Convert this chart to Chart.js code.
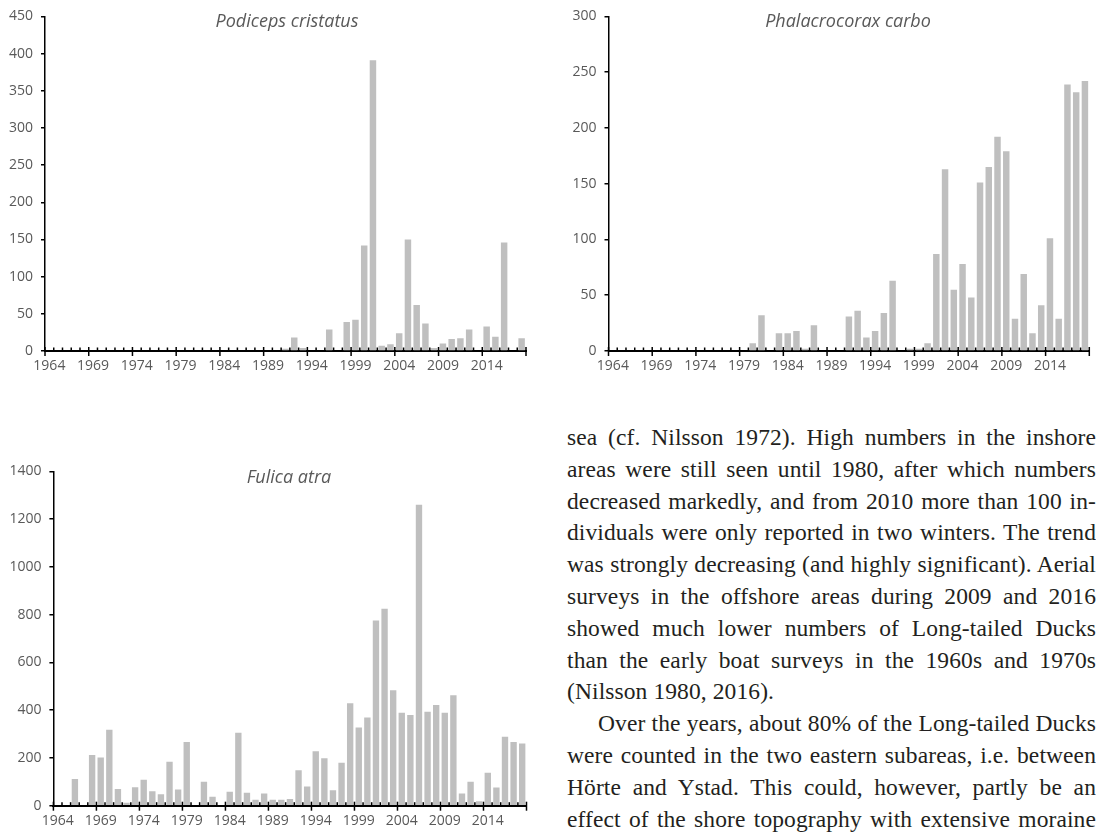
<!DOCTYPE html>
<html>
<head>
<meta charset="utf-8">
<script src="https://cdn.jsdelivr.net/npm/chart.js@4.4.1/dist/chart.umd.min.js"></script>
<style>
  body { margin: 0; background: #fff; width: 1096px; height: 834px; overflow: hidden; position: relative; }
  .box { position: absolute; }
  .title { position: absolute; font-family: 'Open Sans'; font-style: italic; font-size: 18px; color: #595959;
           transform: translate(-50%, -50%); white-space: nowrap; }
  #text { position: absolute; left: 567px; top: 422px; width: 529px; font-family: 'Liberation Serif';
          font-size: 23.5px; letter-spacing: 0.1px; line-height: 31.8px; color: #231f20; }
  #text div { text-align: justify; text-align-last: justify; }
  #text div.end { text-align-last: left; }
  #text div.ind { text-indent: 31px; }
</style>
</head>
<body>
<div class="box" style="left:0;top:0;width:540px;height:372px"><canvas id="podiceps"></canvas></div>
<div class="box" style="left:560px;top:0;width:536px;height:372px"><canvas id="phalacrocorax"></canvas></div>
<div class="box" style="left:0;top:455px;width:540px;height:379px"><canvas id="fulica"></canvas></div>
<div class="title" style="left:287px;top:20px">Podiceps cristatus</div>
<div class="title" style="left:848px;top:20px">Phalacrocorax carbo</div>
<div class="title" style="left:289px;top:476px">Fulica atra</div>
<div id="text">
  <div>sea (cf. Nilsson 1972). High numbers in the inshore</div>
  <div>areas were still seen until 1980, after which numbers</div>
  <div>decreased markedly, and from 2010 more than 100 in-</div>
  <div>dividuals were only reported in two winters. The trend</div>
  <div>was strongly decreasing (and highly significant). Aerial</div>
  <div>surveys in the offshore areas during 2009 and 2016</div>
  <div>showed much lower numbers of Long-tailed Ducks</div>
  <div>than the early boat surveys in the 1960s and 1970s</div>
  <div class="end">(Nilsson 1980, 2016).</div>
  <div class="ind">Over the years, about 80% of the Long-tailed Ducks</div>
  <div>were counted in the two eastern subareas, i.e. between</div>
  <div>Hörte and Ystad. This could, however, partly be an</div>
  <div>effect of the shore topography with extensive moraine</div>
</div>
<script>
const years = ['1964','1965','1966','1967','1968','1969','1970','1971','1972','1973','1974','1975','1976','1977',
   '1978','1979','1980','1981','1982','1983','1984','1985','1986','1987','1988','1989','1990','1991','1992',
   '1993','1994','1995','1996','1997','1998','1999','2000','2001','2002','2003','2004','2005','2006','2007',
   '2008','2009','2010','2011','2012','2013','2014','2015','2016','2017','2018'];
const tickYears = ['1964','1969','1974','1979','1984','1989','1994','1999','2004','2009','2014'];

const podiceps = [0,0,0,0,0,0,0,0,0,0,0,0,0,0,0,0,0,0,0,0,0,0,0,0,0,0,0,
   3,18,4,0,0,29,0,39,42,142,391,7,9,24,150,62,37,4,10,16,17,29,0,33,19,146,0,17];
const phalacrocorax = [0,0,0,0,0,0,0,0,0,0,0,0,0,0,0,0,
   7,32,0,16,16,18,2,23,0,0,0,31,36,12,18,34,63,0,2,2,7,87,163,55,78,48,151,165,192,179,29,69,16,41,101,29,239,232,242];
const fulica = [0,0,112,0,212,202,318,70,12,77,109,61,48,184,68,267,0,100,38,0,58,305,54,25,51,25,25,28,
   148,80,228,199,65,180,429,328,369,776,825,483,389,380,1260,393,422,389,463,51,100,19,138,76,289,267,260];

// small tick marks on the category axis, long ones every fifth year
const axisTicks = {
   id: 'axisTicks',
   afterDraw(chart) {
      const x = chart.scales.x, c = chart.ctx, y0 = chart.chartArea.bottom;
      const half = (x.getPixelForValue(1) - x.getPixelForValue(0)) / 2;
      c.save();
      c.strokeStyle = '#000';
      c.lineWidth = 1.5;
      for (let i = 0; i <= years.length; i++) {
         const px = i < years.length ? x.getPixelForValue(i) - half : x.getPixelForValue(i - 1) + half;
         c.beginPath();
         if (i % 5 === 0) { c.moveTo(px, y0 - 4); c.lineTo(px, y0 + 5); }
         else { c.moveTo(px, y0 - 3.5); c.lineTo(px, y0); }
         c.stroke();
      }
      c.restore();
   }
};

function makeChart(id, values, max, step, yWidth, xHeight, padRight) {
   const ctx = document.getElementById(id).getContext('2d');
   return new Chart(ctx, {
      type: 'bar',
      data: {
         labels: years,
         datasets: [{
            data: values,
            backgroundColor: '#bfbfbf',
            borderWidth: 0,
            barPercentage: 0.74,
            categoryPercentage: 1
         }]
      },
      options: {
         responsive: true,
         maintainAspectRatio: false,
         animation: false,
         layout: { padding: { top: 12, right: padRight, left: 0, bottom: 0 } },
         plugins: { legend: { display: false }, tooltip: { enabled: false } },
         scales: {
            x: {
               offset: true,
               grid: { display: false, drawTicks: false },
               border: { display: true, color: '#000', width: 2 },
               ticks: {
                  autoSkip: false,
                  maxRotation: 0,
                  padding: 7,
                  color: '#595959',
                  font: { family: 'Open Sans', size: 14 },
                  callback: (v, i) => tickYears.includes(years[i]) ? years[i] : ''
               },
               afterFit: s => { s.height = xHeight; }
            },
            y: {
               min: 0,
               max: max,
               grid: { drawOnChartArea: false, drawTicks: true, tickLength: 4, tickColor: '#000', lineWidth: 1.5 },
               border: { display: true, color: '#000', width: 1.5 },
               ticks: {
                  stepSize: step,
                  padding: 8,
                  color: '#595959',
                  font: { family: 'Open Sans', size: 14 },
                  callback: v => String(v)
               },
               afterFit: s => { s.width = yWidth; }
            }
         }
      },
      plugins: [axisTicks]
   });
}

makeChart('podiceps', podiceps, 450, 50, 45, 21, 14);
makeChart('phalacrocorax', phalacrocorax, 300, 50, 48.5, 21, 6.7);
makeChart('fulica', fulica, 1400, 200, 53.4, 28.3, 13.5);
</script>
</body>
</html>
